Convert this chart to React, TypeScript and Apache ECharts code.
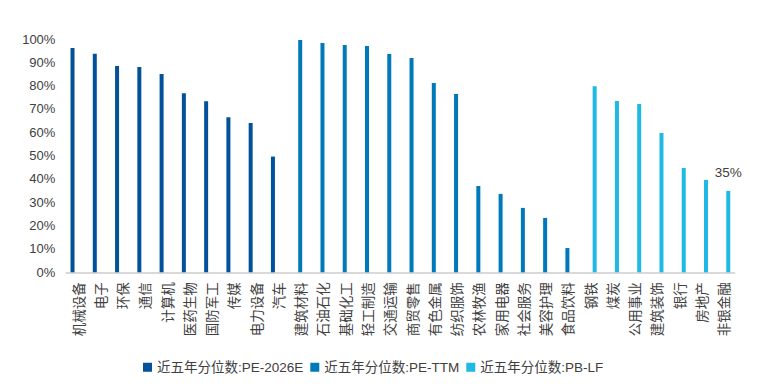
import React, { useEffect, useRef } from "react";
import * as echarts from "echarts";

const categories = [
  "机械设备", "电子", "环保", "通信", "计算机", "医药生物", "国防军工", "传媒", "电力设备", "汽车",
  "建筑材料", "石油石化", "基础化工", "轻工制造", "交通运输", "商贸零售", "有色金属", "纺织服饰", "农林牧渔", "家用电器", "社会服务", "美容护理", "食品饮料",
  "钢铁", "煤炭", "公用事业", "建筑装饰", "银行", "房地产", "非银金融",
];

const pe2026E = [96.1, 93.7, 88.4, 88.0, 85.0, 76.8, 73.3, 66.5, 64.0, 49.6];
const peTTM = [99.6, 98.3, 97.4, 97.0, 93.6, 91.9, 81.1, 76.4, 37.0, 33.6, 27.6, 23.3, 10.4];
const pbLF = [79.8, 73.4, 72.1, 59.7, 44.7, 39.6, 34.9];

const seriesNames = ["近五年分位数:PE-2026E", "近五年分位数:PE-TTM", "近五年分位数:PB-LF"];
const colors = ["#02529A", "#0079B8", "#1FB9E3"];
const yTicks = [0, 10, 20, 30, 40, 50, 60, 70, 80, 90, 100];

const FONT = "'Liberation Sans', Arial, 'Noto Sans CJK SC', sans-serif";
const TEXT = "#404040";

function place(values: number[], start: number): (number | null)[] {
  const arr: (number | null)[] = categories.map(() => null);
  values.forEach((v, i) => (arr[start + i] = v));
  return arr;
}

export default function App() {
  const ref = useRef<HTMLDivElement>(null);
  useEffect(() => {
    if (!ref.current) return;
    const chart = echarts.init(ref.current, null, { renderer: "svg" });
    const d1 = place(pe2026E, 0);
    const d2 = place(peTTM, pe2026E.length);
    const d3 = place(pbLF, pe2026E.length + peTTM.length);
    const lastIdx = categories.length - 1;
    chart.setOption({
      animation: false,
      textStyle: { fontFamily: FONT },
      grid: { left: 66.4, right: 30.6, top: 39, bottom: 118.7, containLabel: false },
      legend: {
        bottom: 12,
        left: 138,
        icon: "rect",
        itemWidth: 9,
        itemHeight: 9,
        itemGap: 7,
        textStyle: { color: TEXT, fontSize: 13.5, fontFamily: FONT },
        data: seriesNames,
      },
      xAxis: {
        type: "category",
        data: categories,
        axisLine: { lineStyle: { color: "#D9D9D9", width: 2 } },
        axisTick: { show: false },
        axisLabel: {
          rotate: 90,
          interval: 0,
          color: TEXT,
          fontSize: 13.5,
          margin: 10,
          fontFamily: "'Noto Sans CJK SC', sans-serif",
        },
      },
      yAxis: {
        type: "value",
        min: 0,
        max: 100,
        interval: 10,
        splitLine: { show: false },
        axisLine: { show: false },
        axisTick: { show: false },
        axisLabel: {
          color: TEXT,
          fontSize: 13,
          margin: 11,
          formatter: (v: number) => (yTicks.includes(v) ? v + "%" : ""),
        },
      },
      series: [
        { name: seriesNames[0], type: "bar", data: d1, barWidth: 4, barGap: "25%", itemStyle: { color: colors[0] } },
        { name: seriesNames[1], type: "bar", data: d2, barWidth: 4, barGap: "25%", itemStyle: { color: colors[1] } },
        {
          name: seriesNames[2],
          type: "bar",
          data: d3.map((v, i) =>
            i === lastIdx && v !== null
              ? {
                  value: v,
                  label: {
                    show: true,
                    position: "top",
                    distance: 12,
                    formatter: (p: any) => Math.round(p.value) + "%",
                    color: TEXT,
                    fontSize: 13.5,
                    fontFamily: FONT,
                  },
                }
              : v
          ),
          barWidth: 4,
          barGap: "25%",
          itemStyle: { color: colors[2] },
        },
      ],
    });
    return () => chart.dispose();
  }, []);
  return <div ref={ref} style={{ width: 765, height: 391, margin: -8 }} />;
}
